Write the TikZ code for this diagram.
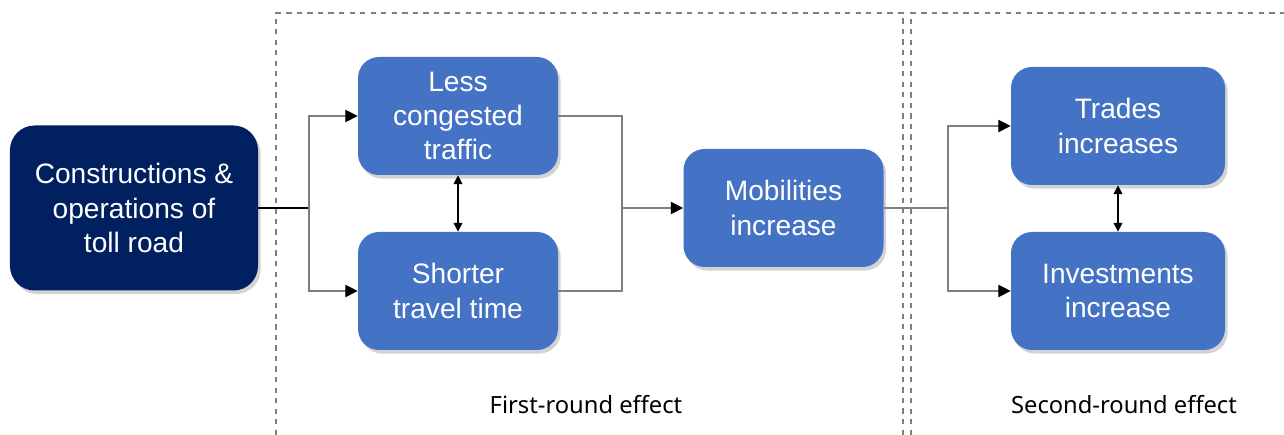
\documentclass[tikz,border=0pt]{standalone}
\usepackage{fontspec}
\setmainfont{Liberation Sans}
\newfontfamily\labelfont{Noto Sans}
\usetikzlibrary{arrows.meta,shadows}
\definecolor{boxblue}{HTML}{4472C4}
\definecolor{navy}{HTML}{002060}
\definecolor{linegray}{HTML}{7F7F7F}

\begin{document}
\begin{tikzpicture}[
    box/.style={rounded corners=12pt, fill=boxblue, text=white,
        minimum width=4cm, minimum height=2.36cm, align=center,
        font=\fontsize{16}{19.5}\selectfont,
        drop shadow={shadow xshift=1.5pt, shadow yshift=-2pt, opacity=0.35}},
    srcbox/.style={box, fill=navy, minimum width=4.96cm, minimum height=3.3cm,
        rounded corners=14pt},
    link/.style={draw=linegray, line width=0.6pt},
    arrow/.style={link, -{Triangle[length=7pt, width=7pt, color=black]}},
    twoway/.style={draw=black, line width=0.6pt,
        {Triangle[length=5pt, width=5pt]}-{Triangle[length=5pt, width=5pt]}},
    region/.style={draw=linegray, dashed, line width=0.6pt},
    caption/.style={font=\labelfont\fontsize{13.5}{16}\selectfont}
]
    \useasboundingbox (0,0) rectangle (25.68,8.7);

    % effect regions
    \draw[region] (5.52,0) -- (5.52,8.44) -- (18.06,8.44) -- (18.06,0);
    \draw[region] (18.22,0) -- (18.22,8.44) -- (25.8,8.44);

    \node[srcbox] (src) at (2.68,4.54) {Constructions \&\\operations of\\toll road};
    \node[box] (less) at (9.16,6.38) {Less\\congested\\traffic};
    \node[box] (short) at (9.16,2.88) {Shorter\\travel time};
    \node[box] (mob) at (15.67,4.54) {Mobilities\\increase};
    \node[box, minimum width=4.28cm] (trade) at (22.36,6.18) {Trades\\increases};
    \node[box, minimum width=4.28cm] (inv) at (22.36,2.88) {Investments\\increase};

    \coordinate (split) at (6.18,4.54);
    \coordinate (merge) at (12.44,4.54);
    \coordinate (fork) at (18.96,4.54);

    \draw[link, draw=black] (src.east) -- (split);
    \draw[arrow] (split) |- (less.west);
    \draw[arrow] (split) |- (short.west);
    \draw[link] (less.east) -| (merge);
    \draw[link] (short.east) -| (merge);
    \draw[arrow] (merge) -- (mob.west);
    \draw[link] (mob.east) -- (fork);
    \draw[arrow] (fork) |- (trade.west);
    \draw[arrow] (fork) |- (inv.west);
    \draw[twoway] (less.south) -- (short.north);
    \draw[twoway] (trade.south) -- (inv.north);

    \node[caption] (first) at (11.72,0.6) {First-round effect};
    \node[caption] (second) at (22.48,0.6) {Second-round effect};
\end{tikzpicture}
\end{document}
